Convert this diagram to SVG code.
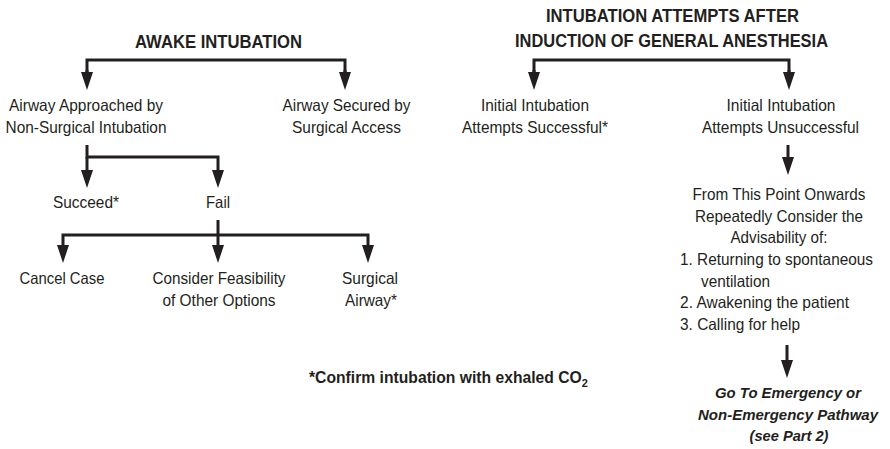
<svg xmlns="http://www.w3.org/2000/svg" width="890" height="449" viewBox="0 0 890 449">
<defs>
<marker id="ah" markerUnits="userSpaceOnUse" markerWidth="18" markerHeight="12" viewBox="0 -6 18 12" refX="10" refY="0" orient="auto">
<path d="M0,-6 L18,0 L0,6 Z" fill="#231f20"/>
</marker>
<style>
text{font-family:"Liberation Sans",Arial,sans-serif;fill:#231f20;}
.b{font-size:16.5px;text-anchor:middle;}
.l{font-size:16.5px;}
.h{font-size:18px;font-weight:bold;text-anchor:middle;}
.f{font-size:15.7px;font-weight:bold;}
.s{font-size:11px;font-weight:bold;}
.i{font-size:15.5px;font-weight:bold;font-style:italic;text-anchor:middle;}
.c{fill:none;stroke:#231f20;stroke-width:3;}
.a{marker-end:url(#ah);}
</style>
</defs>
<rect width="890" height="449" fill="#fff"/>
<g id="awake-title"><text class="h" x="218.5" y="48" textLength="167" lengthAdjust="spacingAndGlyphs">AWAKE INTUBATION</text></g>
<g id="nonsurgical"><text class="b" x="86" y="111" textLength="154" lengthAdjust="spacingAndGlyphs">Airway Approached by</text><text class="b" x="86" y="133" textLength="161" lengthAdjust="spacingAndGlyphs">Non-Surgical Intubation</text></g>
<g id="surgical-access"><text class="b" x="346.5" y="111" textLength="128" lengthAdjust="spacingAndGlyphs">Airway Secured by</text><text class="b" x="346.5" y="133" textLength="109" lengthAdjust="spacingAndGlyphs">Surgical Access</text></g>
<g id="succeed"><text class="b" x="86" y="208" textLength="66" lengthAdjust="spacingAndGlyphs">Succeed*</text></g>
<g id="fail"><text class="b" x="218" y="208" textLength="24" lengthAdjust="spacingAndGlyphs">Fail</text></g>
<g id="cancel"><text class="b" x="62" y="284" textLength="85" lengthAdjust="spacingAndGlyphs">Cancel Case</text></g>
<g id="consider"><text class="b" x="219" y="284" textLength="133" lengthAdjust="spacingAndGlyphs">Consider Feasibility</text><text class="b" x="219" y="306" textLength="113" lengthAdjust="spacingAndGlyphs">of Other Options</text></g>
<g id="surgical-airway"><text class="b" x="370" y="284" textLength="56" lengthAdjust="spacingAndGlyphs">Surgical</text><text class="b" x="371" y="306" textLength="52" lengthAdjust="spacingAndGlyphs">Airway*</text></g>
<g id="footnote"><text class="f" x="309" y="383">*Confirm intubation with exhaled CO<tspan class="s" dy="4">2</tspan></text></g>
<g id="ga-title"><text class="h" x="672.5" y="22" textLength="253" lengthAdjust="spacingAndGlyphs">INTUBATION ATTEMPTS AFTER</text><text class="h" x="671.5" y="47" textLength="313" lengthAdjust="spacingAndGlyphs">INDUCTION OF GENERAL ANESTHESIA</text></g>
<g id="successful"><text class="b" x="535" y="111" textLength="108" lengthAdjust="spacingAndGlyphs">Initial Intubation</text><text class="b" x="535" y="133" textLength="146" lengthAdjust="spacingAndGlyphs">Attempts Successful*</text></g>
<g id="unsuccessful"><text class="b" x="781" y="111" textLength="109" lengthAdjust="spacingAndGlyphs">Initial Intubation</text><text class="b" x="780.5" y="133" textLength="157" lengthAdjust="spacingAndGlyphs">Attempts Unsuccessful</text></g>
<g id="consider-list">
<text class="b" x="779" y="200" textLength="173" lengthAdjust="spacingAndGlyphs">From This Point Onwards</text>
<text class="b" x="779" y="222" textLength="168" lengthAdjust="spacingAndGlyphs">Repeatedly Consider the</text>
<text class="b" x="779" y="243" textLength="97" lengthAdjust="spacingAndGlyphs">Advisability of:</text>
<text class="l" x="680" y="265" textLength="193" lengthAdjust="spacingAndGlyphs">1. Returning to spontaneous</text>
<text class="l" x="701" y="287" textLength="69" lengthAdjust="spacingAndGlyphs">ventilation</text>
<text class="l" x="680" y="308" textLength="169" lengthAdjust="spacingAndGlyphs">2. Awakening the patient</text>
<text class="l" x="680" y="330" textLength="120" lengthAdjust="spacingAndGlyphs">3. Calling for help</text>
</g>
<g id="goto"><text class="i" x="788" y="398" textLength="146" lengthAdjust="spacingAndGlyphs">Go To Emergency or</text><text class="i" x="788" y="420" textLength="180" lengthAdjust="spacingAndGlyphs">Non-Emergency Pathway</text><text class="i" x="789" y="441" textLength="79" lengthAdjust="spacingAndGlyphs">(see Part 2)</text></g>
<g id="connectors">
<path class="c" d="M87,82 V60 H345 V82"/>
<path class="c a" d="M87,70 V82"/>
<path class="c a" d="M345,70 V82"/>
<path class="c" d="M87,145 V157 H218 V180"/>
<path class="c a" d="M87,157 V180"/>
<path class="c a" d="M218,170 V180"/>
<path class="c" d="M63,255 V235 H368 V255"/>
<path class="c a" d="M218,220 V255"/>
<path class="c a" d="M63,245 V255"/>
<path class="c a" d="M368,245 V255"/>
<path class="c" d="M534,82 V60 H789 V82"/>
<path class="c a" d="M534,70 V82"/>
<path class="c a" d="M789,70 V82"/>
<path class="c a" d="M788,145 V167"/>
<path class="c a" d="M787,345 V370"/>
</g>
</svg>
